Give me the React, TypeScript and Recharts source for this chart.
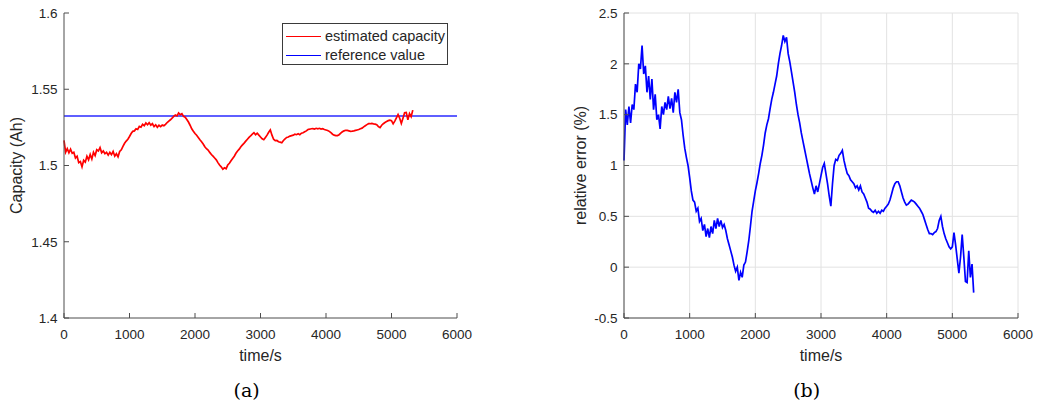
import React from 'react';
import { LineChart, Line, XAxis, YAxis, CartesianGrid, ReferenceLine, Legend, Label } from 'recharts';

const TIME_S = [
  0, 25, 50, 75, 100, 125, 150, 175, 200, 225,
  250, 275, 300, 325, 350, 375, 400, 425, 450, 475,
  500, 525, 550, 575, 600, 625, 650, 675, 700, 725,
  750, 775, 800, 825, 850, 875, 900, 925, 950, 975,
  1000, 1025, 1050, 1075, 1100, 1125, 1150, 1175, 1200, 1225,
  1250, 1275, 1300, 1325, 1350, 1375, 1400, 1425, 1450, 1475,
  1500, 1525, 1550, 1575, 1600, 1625, 1650, 1675, 1700, 1725,
  1750, 1775, 1800, 1825, 1850, 1875, 1900, 1925, 1950, 1975,
  2000, 2025, 2050, 2075, 2100, 2125, 2150, 2175, 2200, 2225,
  2250, 2275, 2300, 2325, 2350, 2375, 2400, 2425, 2450, 2475,
  2500, 2525, 2550, 2575, 2600, 2625, 2650, 2675, 2700, 2725,
  2750, 2775, 2800, 2825, 2850, 2875, 2900, 2925, 2950, 2975,
  3000, 3025, 3050, 3075, 3100, 3125, 3150, 3175, 3200, 3225,
  3250, 3275, 3300, 3325, 3350, 3375, 3400, 3425, 3450, 3475,
  3500, 3525, 3550, 3575, 3600, 3625, 3650, 3675, 3700, 3725,
  3750, 3775, 3800, 3825, 3850, 3875, 3900, 3925, 3950, 3975,
  4000, 4025, 4050, 4075, 4100, 4125, 4150, 4175, 4200, 4225,
  4250, 4275, 4300, 4325, 4350, 4375, 4400, 4425, 4450, 4475,
  4500, 4525, 4550, 4575, 4600, 4625, 4650, 4675, 4700, 4725,
  4750, 4775, 4800, 4825, 4850, 4875, 4900, 4925, 4950, 4975,
  5000, 5025, 5050, 5075, 5100, 5125, 5150, 5175, 5200, 5225,
  5250, 5275, 5300, 5325,
];

const CAPACITY_AH = [
  1.5164, 1.5087, 1.5110, 1.5083, 1.5107, 1.5080, 1.5087, 1.5049, 1.5061, 1.5019,
  1.5026, 1.4991, 1.5034, 1.5022, 1.5061, 1.5037, 1.5072, 1.5042, 1.5087, 1.5065,
  1.5103, 1.5095, 1.5117, 1.5083, 1.5095, 1.5077, 1.5087, 1.5068, 1.5086, 1.5071,
  1.5092, 1.5061, 1.5077, 1.5057, 1.5092, 1.5103, 1.5126, 1.5146, 1.5160, 1.5172,
  1.5190, 1.5210, 1.5224, 1.5227, 1.5241, 1.5236, 1.5256, 1.5251, 1.5270, 1.5261,
  1.5279, 1.5267, 1.5281, 1.5264, 1.5274, 1.5255, 1.5267, 1.5251, 1.5264, 1.5255,
  1.5265, 1.5261, 1.5270, 1.5282, 1.5291, 1.5300, 1.5310, 1.5322, 1.5331, 1.5325,
  1.5345, 1.5333, 1.5340, 1.5322, 1.5317, 1.5302, 1.5285, 1.5264, 1.5241, 1.5225,
  1.5210, 1.5198, 1.5184, 1.5169, 1.5156, 1.5141, 1.5123, 1.5110, 1.5101, 1.5086,
  1.5072, 1.5061, 1.5049, 1.5037, 1.5019, 1.5003, 1.4991, 1.4976, 1.4985, 1.4979,
  1.5003, 1.5015, 1.5031, 1.5046, 1.5061, 1.5080, 1.5095, 1.5107, 1.5123, 1.5135,
  1.5147, 1.5160, 1.5172, 1.5184, 1.5195, 1.5205, 1.5215, 1.5202, 1.5212, 1.5199,
  1.5187, 1.5175, 1.5169, 1.5184, 1.5199, 1.5218, 1.5233, 1.5199, 1.5172, 1.5163,
  1.5164, 1.5156, 1.5153, 1.5149, 1.5164, 1.5175, 1.5184, 1.5187, 1.5193, 1.5196,
  1.5199, 1.5205, 1.5202, 1.5208, 1.5202, 1.5212, 1.5215, 1.5221, 1.5227, 1.5236,
  1.5238, 1.5241, 1.5242, 1.5239, 1.5244, 1.5241, 1.5244, 1.5239, 1.5241, 1.5236,
  1.5233, 1.5230, 1.5224, 1.5215, 1.5205, 1.5199, 1.5196, 1.5196, 1.5202, 1.5212,
  1.5221, 1.5227, 1.5231, 1.5230, 1.5227, 1.5224, 1.5225, 1.5227, 1.5230, 1.5233,
  1.5236, 1.5241, 1.5245, 1.5253, 1.5261, 1.5268, 1.5274, 1.5274, 1.5276, 1.5273,
  1.5271, 1.5267, 1.5255, 1.5248, 1.5264, 1.5274, 1.5282, 1.5288, 1.5294, 1.5297,
  1.5294, 1.5273, 1.5291, 1.5313, 1.5334, 1.5310, 1.5276, 1.5310, 1.5346, 1.5348,
  1.5300, 1.5340, 1.5320, 1.5363,
];

const RELATIVE_ERROR_PCT = [
  1.05, 1.55, 1.40, 1.58, 1.42, 1.60, 1.55, 1.80, 1.72, 2.00,
  1.95, 2.18, 1.90, 1.98, 1.72, 1.88, 1.65, 1.85, 1.55, 1.70,
  1.45, 1.50, 1.36, 1.58, 1.50, 1.62, 1.55, 1.68, 1.56, 1.66,
  1.52, 1.72, 1.62, 1.75, 1.52, 1.45, 1.30, 1.17, 1.08, 1.00,
  0.88, 0.75, 0.66, 0.64, 0.55, 0.58, 0.45, 0.48, 0.36, 0.42,
  0.30, 0.38, 0.29, 0.40, 0.33, 0.46, 0.38, 0.48, 0.40, 0.46,
  0.39, 0.42, 0.36, 0.28, 0.22, 0.16, 0.10, 0.02, -0.04, 0.00,
  -0.13, -0.05, -0.10, 0.02, 0.05, 0.15, 0.26, 0.40, 0.55, 0.65,
  0.75, 0.83, 0.92, 1.02, 1.10, 1.20, 1.32, 1.40, 1.46, 1.56,
  1.65, 1.72, 1.80, 1.88, 2.00, 2.10, 2.18, 2.28, 2.22, 2.26,
  2.10, 2.02, 1.92, 1.82, 1.72, 1.60, 1.50, 1.42, 1.32, 1.24,
  1.16, 1.08, 1.00, 0.92, 0.85, 0.78, 0.72, 0.80, 0.74, 0.82,
  0.90, 0.98, 1.02, 0.92, 0.82, 0.70, 0.60, 0.82, 1.00, 1.06,
  1.05, 1.10, 1.12, 1.15, 1.05, 0.98, 0.92, 0.90, 0.86, 0.84,
  0.82, 0.78, 0.80, 0.76, 0.80, 0.74, 0.72, 0.68, 0.64, 0.58,
  0.57, 0.55, 0.54, 0.56, 0.53, 0.55, 0.53, 0.56, 0.55, 0.58,
  0.60, 0.62, 0.66, 0.72, 0.78, 0.82, 0.84, 0.84, 0.80, 0.74,
  0.68, 0.64, 0.61, 0.62, 0.64, 0.66, 0.65, 0.64, 0.62, 0.60,
  0.58, 0.55, 0.52, 0.47, 0.42, 0.37, 0.33, 0.33, 0.32, 0.34,
  0.35, 0.38, 0.46, 0.50, 0.40, 0.33, 0.28, 0.24, 0.20, 0.18,
  0.20, 0.34, 0.22, 0.08, -0.06, 0.10, 0.32, 0.10, -0.14, -0.15,
  0.16, -0.10, 0.03, -0.25,
];

const REFERENCE_CAPACITY = 1.5325;
const X_TICKS = [0, 1000, 2000, 3000, 4000, 5000, 6000];
const CAP_TICKS = [1.4, 1.45, 1.5, 1.55, 1.6];
const ERR_TICKS = [-0.5, 0, 0.5, 1, 1.5, 2, 2.5];
const LEGEND_ITEMS = [
  { label: 'estimated capacity', color: '#ff0000' },
  { label: 'reference value', color: '#0000ff' },
];

const capData = TIME_S.map((t, i) => ({ t, cap: CAPACITY_AH[i] }));
const errData = TIME_S.map((t, i) => ({ t, err: RELATIVE_ERROR_PCT[i] }));

const FONT = '"Liberation Sans", Arial, Helvetica, sans-serif';
const AXIS = '#4d4d4d';
const TEXT = '#262626';
const tickStyle = { fontSize: 13.5, fill: TEXT, fontFamily: FONT };
const labelStyle = { fontSize: 16, fill: TEXT, fontFamily: FONT };
const blank = () => '';

const LegendBox = () => (
  <div
    style={{
      width: 166,
      height: 42,
      boxSizing: 'border-box',
      border: '1px solid #3a3a3a',
      background: '#fff',
      fontFamily: FONT,
      fontSize: 14.5,
      color: TEXT,
      position: 'relative',
    }}
  >
    {LEGEND_ITEMS.map((item, i) => (
      <div
        key={item.label}
        style={{ position: 'absolute', left: 3, top: 3 + i * 19.3, height: 18, display: 'flex', alignItems: 'center', whiteSpace: 'nowrap' }}
      >
        <span style={{ display: 'inline-block', width: 35, height: 1, background: item.color, marginRight: 4 }} />
        <span>{item.label}</span>
      </div>
    ))}
  </div>
);

export default function App() {
  return (
    <div style={{ position: 'absolute', left: 0, top: 0, width: 1039, height: 410, background: '#fff' }}>
      <div style={{ position: 'absolute', left: 0, top: 0 }}>
        <LineChart width={480} height={380} data={capData} margin={{ top: 13, right: 23, bottom: 32, left: 14 }}>
          <XAxis
            xAxisId="b"
            dataKey="t"
            type="number"
            domain={[0, 6000]}
            ticks={X_TICKS}
            interval={0}
            tick={tickStyle}
            tickSize={-5}
            tickMargin={16.5}
            height={30}
            axisLine={{ stroke: AXIS }}
            tickLine={{ stroke: AXIS }}
          >
            <Label value="time/s" position="bottom" offset={2} style={labelStyle} />
          </XAxis>
          <XAxis
            xAxisId="top"
            orientation="top"
            dataKey="t"
            type="number"
            domain={[0, 6000]}
            ticks={X_TICKS}
            interval={0}
            tickFormatter={blank}
            tickSize={-5}
            height={0}
            axisLine={{ stroke: AXIS }}
            tickLine={{ stroke: AXIS }}
          />
          <YAxis
            yAxisId="l"
            type="number"
            domain={[1.4, 1.6]}
            ticks={CAP_TICKS}
            interval={0}
            tick={tickStyle}
            tickSize={-5}
            tickMargin={11.5}
            width={50}
            axisLine={{ stroke: AXIS }}
            tickLine={{ stroke: AXIS }}
          >
            <Label value="Capacity (Ah)" angle={-90} position="insideLeft" offset={2.5} style={{ ...labelStyle, textAnchor: 'middle' }} />
          </YAxis>
          <YAxis
            yAxisId="r"
            orientation="right"
            type="number"
            domain={[1.4, 1.6]}
            ticks={CAP_TICKS}
            interval={0}
            tickFormatter={blank}
            tickSize={-5}
            width={0}
            axisLine={{ stroke: AXIS }}
            tickLine={{ stroke: AXIS }}
          />
          <ReferenceLine xAxisId="b" yAxisId="l" y={REFERENCE_CAPACITY} stroke="#2a2aff" strokeWidth={1.4} />
          <Line
            xAxisId="b"
            yAxisId="l"
            dataKey="cap"
            type="linear"
            stroke="#ff0000"
            strokeWidth={1.7}
            dot={false}
            isAnimationActive={false}
          />
          <Legend
            content={<LegendBox />}
            layout="horizontal"
            verticalAlign="middle"
            align="center"
            wrapperStyle={{ left: 282, top: 23, width: 166, height: 42 }}
          />
        </LineChart>
      </div>

      <div style={{ position: 'absolute', left: 530, top: 0 }}>
        <LineChart width={509} height={380} data={errData} margin={{ top: 13, right: 21, bottom: 32, left: 44 }}>
          <CartesianGrid xAxisId="b" yAxisId="l" stroke="#e2e2e2" strokeDasharray="" />
          <XAxis
            xAxisId="b"
            dataKey="t"
            type="number"
            domain={[0, 6000]}
            ticks={X_TICKS}
            interval={0}
            tick={tickStyle}
            tickSize={-5}
            tickMargin={16.5}
            height={30}
            axisLine={{ stroke: AXIS }}
            tickLine={{ stroke: AXIS }}
          >
            <Label value="time/s" position="bottom" offset={2} style={labelStyle} />
          </XAxis>
          <XAxis
            xAxisId="top"
            orientation="top"
            dataKey="t"
            type="number"
            domain={[0, 6000]}
            ticks={X_TICKS}
            interval={0}
            tickFormatter={blank}
            tickSize={-5}
            height={0}
            axisLine={{ stroke: AXIS }}
            tickLine={{ stroke: AXIS }}
          />
          <YAxis
            yAxisId="l"
            type="number"
            domain={[-0.5, 2.5]}
            ticks={ERR_TICKS}
            interval={0}
            tick={tickStyle}
            tickSize={-5}
            tickMargin={11.5}
            width={50}
            axisLine={{ stroke: AXIS }}
            tickLine={{ stroke: AXIS }}
          >
            <Label value="relative error (%)" angle={-90} position="insideLeft" offset={6.7} style={{ ...labelStyle, textAnchor: 'middle' }} />
          </YAxis>
          <YAxis
            yAxisId="r"
            orientation="right"
            type="number"
            domain={[-0.5, 2.5]}
            ticks={ERR_TICKS}
            interval={0}
            tickFormatter={blank}
            tickSize={-5}
            width={0}
            axisLine={{ stroke: AXIS }}
            tickLine={{ stroke: AXIS }}
          />
          <Line
            xAxisId="b"
            yAxisId="l"
            dataKey="err"
            type="linear"
            stroke="#0000ff"
            strokeWidth={1.7}
            dot={false}
            isAnimationActive={false}
          />
        </LineChart>
      </div>

      <svg width={1039} height={410} style={{ position: 'absolute', left: 0, top: 0, pointerEvents: 'none' }}>
        <text x={246.7} y={397} textAnchor="middle" fontFamily='"DejaVu Serif", serif' fontSize={19} fill="#000">(a)</text>
        <text x={806.7} y={397} textAnchor="middle" fontFamily='"DejaVu Serif", serif' fontSize={19} fill="#000">(b)</text>
      </svg>
    </div>
  );
}
